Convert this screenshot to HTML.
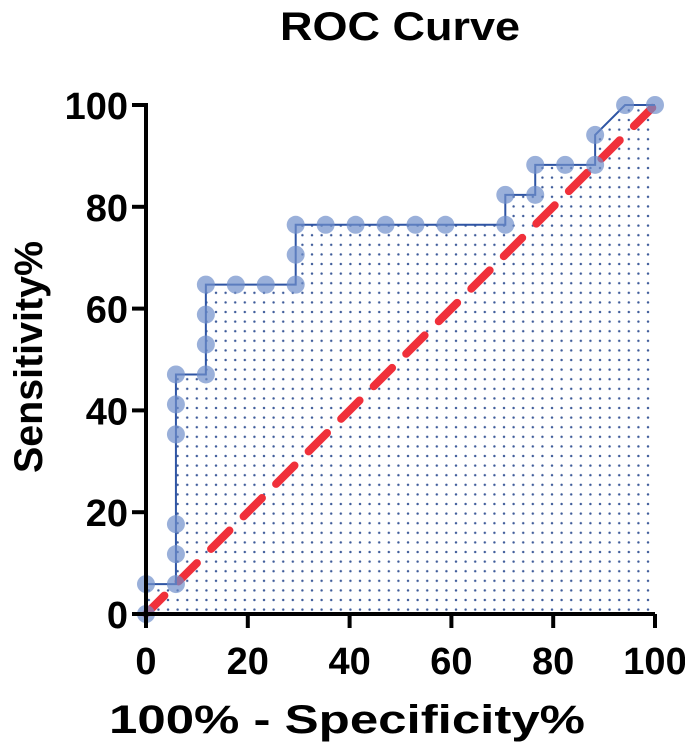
<!DOCTYPE html>
<html><head><meta charset="utf-8"><style>
body{margin:0;background:#fff;width:685px;height:743px;overflow:hidden}
svg text{font-family:"Liberation Sans",Arial,sans-serif;font-weight:bold;fill:#000}
</style></head><body>
<svg id="chart" width="685" height="743">
<defs>
<pattern id="dots" x="0" y="0" width="9.6" height="9.6" patternUnits="userSpaceOnUse">
<circle cx="4.8" cy="4.8" r="1.2" fill="#3d5a99"/>
</pattern>
</defs>
<text x="400" y="40" text-anchor="middle" font-size="40" textLength="240" lengthAdjust="spacingAndGlyphs">ROC Curve</text>
<text x="347" y="733" text-anchor="middle" font-size="40" textLength="476" lengthAdjust="spacingAndGlyphs">100% - Specificity%</text>
<text transform="translate(42,357) rotate(-90)" text-anchor="middle" font-size="40" textLength="232" lengthAdjust="spacingAndGlyphs">Sensitivity%</text>
<g id="plot"></g>
</svg>
<script>
const xs=[0,0,5.88,5.88,5.88,5.88,5.88,5.88,11.76,11.76,11.76,11.76,17.65,23.53,29.41,29.41,29.41,35.29,41.18,47.06,52.94,58.82,70.59,70.59,76.47,76.47,82.35,88.24,88.24,94.12,100];
const ys=[0,5.88,5.88,11.76,17.65,35.29,41.18,47.06,47.06,52.94,58.82,64.71,64.71,64.71,64.71,70.59,76.47,76.47,76.47,76.47,76.47,76.47,76.47,82.35,82.35,88.24,88.24,88.24,94.12,100,100];
const lineX=[0,0,5.88,5.88,11.76,11.76,29.41,29.41,70.59,70.59,76.47,76.47,88.24,88.24,94.12,100];
const lineY=[0,5.88,5.88,47.06,47.06,64.71,64.71,76.47,76.47,82.35,82.35,88.24,88.24,94.12,100,100];
const ticks=[0,20,40,60,80,100];
const X=v=>146+v*5.09, Y=v=>614-v*5.09;
const g=document.getElementById('plot');
const NS='http://www.w3.org/2000/svg';
function mk(t,a){const e=document.createElementNS(NS,t);for(const k in a)e.setAttribute(k,a[k]);g.appendChild(e);return e;}
let pts=lineX.map((x,i)=>X(x)+','+Y(lineY[i])).join(' ');
let area=mk('polygon',{points:pts+' '+X(100)+','+Y(0),fill:'url(#dots)'});


let diag=mk('line',{x1:X(0),y1:Y(0),x2:X(100),y2:Y(100),stroke:'#f0303a','stroke-width':8,'stroke-dasharray':'26 20','stroke-linecap':'round'});


let ln=mk('polyline',{points:pts,fill:'none',stroke:'#2f55a4','stroke-width':2});


xs.forEach((x,i)=>{let c=mk('circle',{cx:X(x),cy:Y(ys[i]),r:9,fill:'#6f8fcb','fill-opacity':0.7});

});
let ax=mk('path',{d:`M${X(0)},${Y(100)-2} V${Y(0)} H${X(100)}`,fill:'none',stroke:'#000','stroke-width':4});


ticks.forEach(t=>{
let a=mk('line',{x1:X(0)-14,x2:X(0),y1:Y(t),y2:Y(t),stroke:'#000','stroke-width':4});


let b=mk('line',{x1:X(t),x2:X(t),y1:Y(0),y2:Y(0)+14,stroke:'#000','stroke-width':4});


let l=mk('text',{x:X(0)-18,y:Y(t)+14,'text-anchor':'end','font-size':38});l.textContent=t;


let m=mk('text',{x:X(t),y:Y(0)+60,'text-anchor':'middle','font-size':38});m.textContent=t;


});
</script>
</body></html>
